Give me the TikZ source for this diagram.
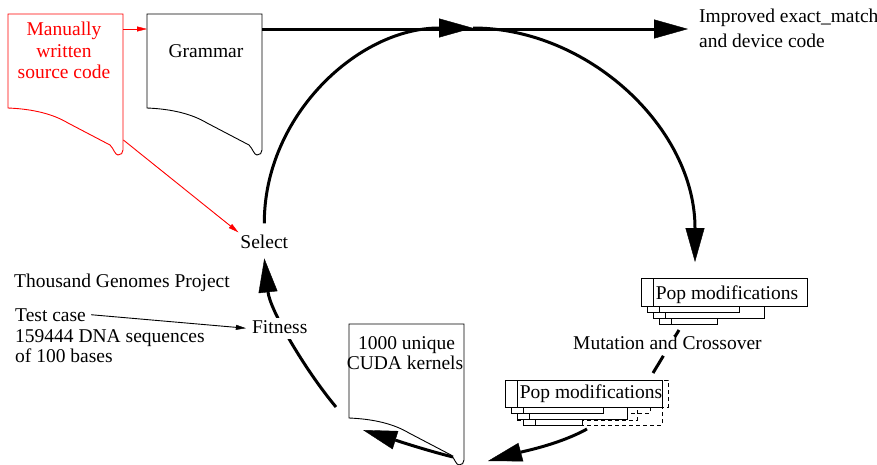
\documentclass[tikz,border=0pt]{standalone}
\usepackage{fontspec}
\setmainfont{Liberation Serif}
\usetikzlibrary{arrows.meta,calc}

% page-shaped outline with a wavy bottom and a small curl at the lower right
\tikzset{
  docshape/.pic={
    \path[pic actions] (0,94) -- (0,0) -- (115,0) -- (115,136)
      .. controls (115,139) and (113,141) .. (110,141)
      .. controls (107,141) and (106,135) .. (102,131)
      -- (60,109) .. controls (45,100) and (25,95) .. (0,94) -- cycle;
  }
}

\begin{document}
\begin{tikzpicture}[x=1pt,y=-1pt,
  every node/.style={font=\fontsize{19.5}{21.5}\selectfont, inner sep=2pt},
  txt/.style={anchor=base},
  ltxt/.style={anchor=base west},
  onflow/.style={fill=white, text depth=4pt},
  docbox/.style={anchor=north west, minimum width=115pt, minimum height=139pt, inner sep=0pt},
  outline/.style={draw=black, fill=white, line width=0.9pt},
  flow/.style={line width=3pt},
  bighead/.style={-{Triangle[length=34pt,width=19pt,line width=0.4pt]}},
  smallhead/.style={-{Triangle[length=10pt,width=5pt,line width=0.4pt]}},
  card/.style={draw=black, fill=white, line width=0.8pt},
  ghost/.style={draw=black, line width=0.8pt, dash pattern=on 4pt off 3pt},
]
\useasboundingbox (0,0) rectangle (877,464);

% ---------- documents ----------
\node[docbox] (manualdoc) at (8,14) {};
\pic[outline, draw=red] at (manualdoc.north west) {docshape};
\node[txt, red] (manual1) at (64,35) {Manually};
\node[txt, red] (manual2) at (64,57) {written};
\node[txt, red] (manual3) at (64,78) {source code};

\node[docbox] (grammardoc) at (147,14) {};
\pic[outline] at (grammardoc.north west) {docshape};
\node[txt] (grammar) at (206,57) {Grammar};

\node[docbox] (cudadoc) at (349,324) {};
\pic[outline] at (cudadoc.north west) {docshape};
\node[txt] (cuda1) at (406.5,349) {1000 unique};
\node[txt] (cuda2) at (405,369) {CUDA kernels};

% ---------- population stacks ----------
% lower stack: dashed outlines of the grown members behind the solid ones
\draw[ghost] (505,380) rectangle (668,407);
\draw[ghost] (511,386) rectangle (650,413);
\draw[ghost] (517,392) rectangle (637,420);
\draw[ghost] (523,398) rectangle (662,425);
\foreach \l/\t/\r in {523/398/582, 517/392/627, 511/386/603, 505/380/662}{
  \draw[card] (\l,\t) rectangle (\r,\t+27);
  \draw[line width=0.8pt] (\l+12,\t) -- (\l+12,\t+27);
}
\node[txt] (pop2) at (591,398) {Pop modifications};

% upper stack
\foreach \l/\t/\r in {659/296/717, 653/290/764, 647/284/739, 641/278/807}{
  \draw[card] (\l,\t) rectangle (\r,\t+28);
  \draw[line width=0.8pt] (\l+12,\t) -- (\l+12,\t+28);
}
\node[txt] (pop1) at (727,299) {Pop modifications};

% ---------- plain labels ----------
\node[txt] (select) at (264.3,248) {Select};
\node[ltxt] (improved1) at (697,22) {Improved exact\_match};
\node[ltxt] (improved2) at (697,47) {and device code};
\node[ltxt] (genomes) at (12,287) {Thousand Genomes Project};
\node[ltxt] (testcase) at (13,321) {Test case};
\node[ltxt] (seqs) at (13,342) {159444 DNA sequences};
\node[ltxt] (bases) at (13,362) {of 100 bases};
\node[ltxt] (mutation) at (571,349) {Mutation and Crossover};

% ---------- points on the evolution cycle ----------
\coordinate (apex) at (473,28);
\coordinate (popin) at (695,262);
\coordinate (mutfrom) at (679,330);
\coordinate (mutto) at (653,373);
\coordinate (newfrom) at (587,429);
\coordinate (newto) at (488,461);
\coordinate (kfrom) at (453,457);
\coordinate (kto) at (363,430);
\coordinate (fitfrom) at (336,407);
\coordinate (gout) at ($(grammardoc.north east)+(0,15)$);

% ---------- cycle ----------
\draw[flow, bighead] ([yshift=9pt]select.north) .. controls (264,116) and (358,28) .. (apex);
\draw[flow, bighead] (apex) .. controls (588,28) and (695,128) .. (popin);
\draw[flow, bighead, shorten >=9pt] (gout) -- (gout -| improved1.west);
% the mutation step is broken where its label sits
\draw[flow] (mutfrom) -- ($(mutfrom)!0.16!(mutto)$);
\draw[flow] ($(mutfrom)!0.6!(mutto)$) -- (mutto);
\draw[flow, bighead] (newfrom) .. controls (560,444) and (525,451) .. (newto);
\draw[flow, bighead] (kfrom) .. controls (425,450) and (395,440) .. (kto);
\draw[flow, bighead] (fitfrom) .. controls (305,370) and (270,310) .. ([yshift=-8pt]select.south);
\node[txt, onflow] (fitness) at (279.7,333) {Fitness};

% ---------- inputs ----------
\draw[red, line width=0.9pt, smallhead] ($(manualdoc.north east)+(0,15)$) -- ($(grammardoc.north west)+(0,15)$);
\draw[red, line width=0.9pt, smallhead] ($(manualdoc.north east)+(0,126)$) -- (select.north west);
\draw[line width=0.9pt, smallhead, shorten >=4pt] ([xshift=3pt]testcase.east) -- (fitness.west);
\end{tikzpicture}
\end{document}
